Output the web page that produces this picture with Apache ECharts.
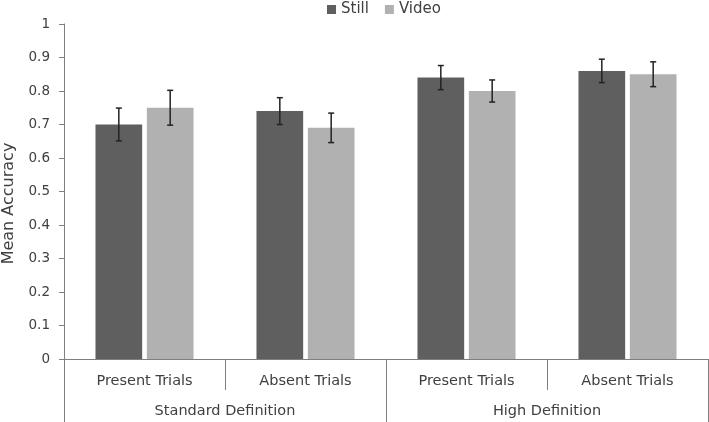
<!DOCTYPE html>
<html><head><meta charset="utf-8">
<script src="https://cdn.jsdelivr.net/npm/echarts@6/dist/echarts.min.js"></script>
<style>html,body{margin:0;padding:0;background:#fff}#c{width:709px;height:422px}</style>
</head><body><div id="c"></div>
<script>
const categories = ['Present Trials', 'Absent Trials', 'Present Trials', 'Absent Trials'];
const groups = ['Standard Definition', 'High Definition'];
const stillValues = [0.70, 0.74, 0.84, 0.86];
const videoValues = [0.75, 0.69, 0.80, 0.85];
const stillErrors = [0.049, 0.040, 0.036, 0.035];
const videoErrors = [0.052, 0.044, 0.033, 0.037];
const yTicks = [0, 0.1, 0.2, 0.3, 0.4, 0.5, 0.6, 0.7, 0.8, 0.9, 1];

const BAR_W = 0.29, GAP = 0.10; // fractions
const total = 2 * BAR_W + BAR_W * GAP;
const offs = [-total / 2 + BAR_W / 2, total / 2 - BAR_W / 2];

function errData(vals, errs) {
  return vals.map((v, i) => [i, v - errs[i], v + errs[i]]);
}
function errSeries(name, vals, errs, k) {
  return {
    type: 'custom', name: name + ' err', silent: true, z: 10,
    data: errData(vals, errs),
    encode: { x: 0, y: [1, 2] },
    renderItem: function (params, api) {
      const band = api.size([1, 0])[0];
      const lo = api.coord([api.value(0), api.value(1)]);
      const hi = api.coord([api.value(0), api.value(2)]);
      const x = lo[0] + offs[k] * band;
      const cap = 3;
      const st = { stroke: '#222', lineWidth: 1.5 };
      return { type: 'group', children: [
        { type: 'line', shape: { x1: x, y1: lo[1], x2: x, y2: hi[1] }, style: st },
        { type: 'line', shape: { x1: x - cap, y1: lo[1], x2: x + cap, y2: lo[1] }, style: st },
        { type: 'line', shape: { x1: x - cap, y1: hi[1], x2: x + cap, y2: hi[1] }, style: st }
      ]};
    }
  };
}

const chart = echarts.init(document.getElementById('c'));
const font = 'DejaVu Sans, Verdana, sans-serif';
chart.setOption({
  animation: false,
  textStyle: { fontFamily: font },
  legend: {
    data: ['Still', 'Video'], left: 327, top: 2, padding: 0,
    itemWidth: 9, itemHeight: 9, itemGap: 16, icon: 'rect',
    textStyle: { fontSize: 15, color: '#404040', fontFamily: font }
  },
  grid: { left: 64, right: 1, top: 24, bottom: 63, containLabel: false, outerBoundsMode: 'none' },
  xAxis: [
    {
      type: 'category', data: categories, position: 'bottom',
      axisLine: { show: true, lineStyle: { color: '#7f7f7f', width: 1 } },
      axisTick: { show: true, length: 31, alignWithLabel: false, lineStyle: { color: '#7f7f7f' } },
      axisLabel: { margin: 15, fontSize: 14.5, color: '#404040', fontFamily: font }
    },
    {
      type: 'category', data: groups, position: 'bottom',
      axisLine: { show: false },
      axisTick: { show: true, length: 63, alignWithLabel: false, lineStyle: { color: '#7f7f7f' } },
      axisLabel: { margin: 45, fontSize: 14.5, color: '#404040', fontFamily: font }
    }
  ],
  yAxis: {
    type: 'value', min: 0, max: 1, interval: 0.1,
    name: 'Mean Accuracy', nameLocation: 'middle', nameGap: 47,
    nameTextStyle: { fontSize: 16, color: '#404040', fontFamily: font, padding: [0, 24, 0, 0] },
    axisLine: { show: true, lineStyle: { color: '#7f7f7f' } },
    axisTick: { show: true, length: 5, lineStyle: { color: '#7f7f7f' } },
    splitLine: { show: false },
    axisLabel: { margin: 14, fontSize: 13.5, color: '#404040', fontFamily: font,
      formatter: v => String(Math.round(v * 10) / 10) }
  },
  series: [
    { name: 'Still', type: 'bar', data: stillValues, barWidth: (BAR_W * 100) + '%', barGap: (GAP * 100) + '%',
      itemStyle: { color: '#5f5f5f' } },
    { name: 'Video', type: 'bar', data: videoValues, barWidth: (BAR_W * 100) + '%',
      itemStyle: { color: '#b1b1b1' } },
    errSeries('Still', stillValues, stillErrors, 0),
    errSeries('Video', videoValues, videoErrors, 1)
  ]
});
</script></body></html>
